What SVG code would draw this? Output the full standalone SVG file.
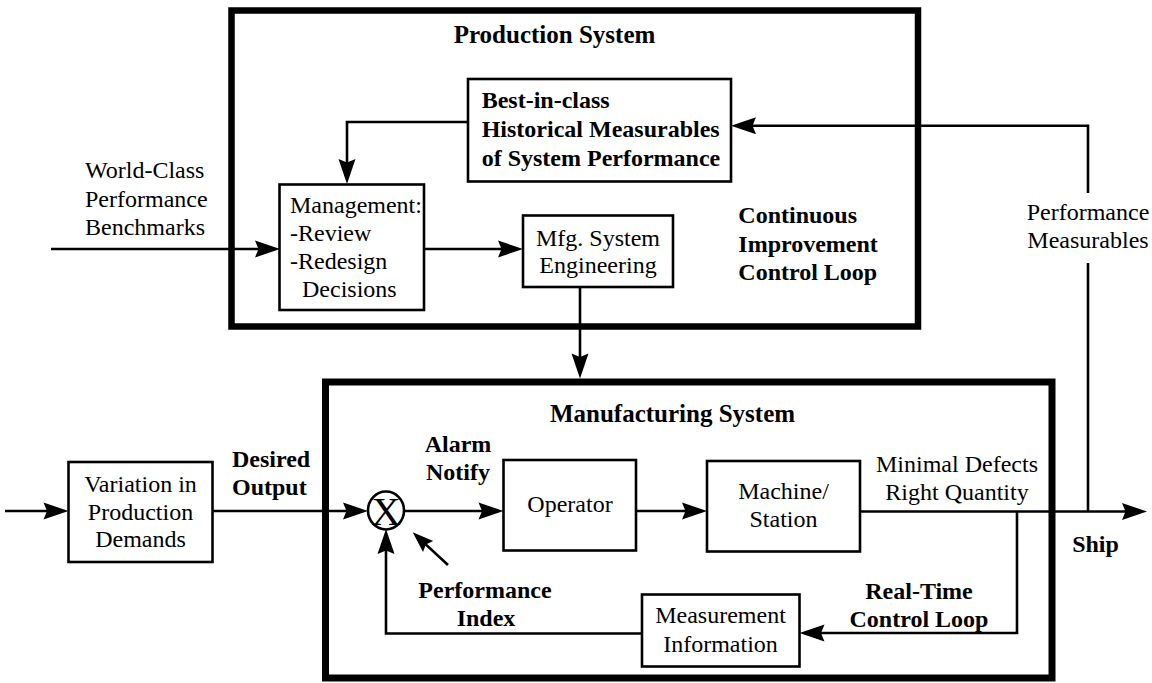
<svg xmlns="http://www.w3.org/2000/svg" width="1152" height="683" viewBox="0 0 1152 683">
  <style>
    .frame { fill: none; stroke: #000; stroke-width: 6.5; }
    .box { fill: #fff; stroke: #000; stroke-width: 2.6; }
    .wire { fill: none; stroke: #000; stroke-width: 2.6; }
    .arrow { marker-end: url(#head); }
    text { font-size: 24px; fill: #000; }
    .b { font-weight: bold; }
    .title { font-weight: bold; font-size: 25px; }
    .c { text-anchor: middle; }
  </style>
  <defs>
    <marker id="head" markerUnits="userSpaceOnUse" viewBox="-26 -10 27 20" refX="-8" refY="0" markerWidth="27" markerHeight="20" orient="auto">
      <path d="M0,0 L-25,-8.5 L-21.5,0 L-25,8.5 Z" fill="#000"/>
    </marker>
    <marker id="headSmall" markerUnits="userSpaceOnUse" viewBox="-22 -9 23 18" refX="-6" refY="0" markerWidth="23" markerHeight="18" orient="auto">
      <path d="M0,0 L-21,-7.5 L-18,0 L-21,7.5 Z" fill="#000"/>
    </marker>
  </defs>

  <g font-family="'Liberation Serif', Tinos, 'Times New Roman', 'DejaVu Serif', serif">
  <!-- outer system frames -->
  <g id="production-system">
    <rect class="frame" x="231.5" y="10.5" width="686.5" height="316"/>
    <text class="title c" x="554.5" y="43">Production System</text>
  </g>
  <g id="manufacturing-system">
    <rect class="frame" x="325.5" y="382" width="726.5" height="296" style="stroke-width:7"/>
    <text class="title c" x="672.5" y="421.7">Manufacturing System</text>
  </g>

  <!-- connectors -->
  <g id="connectors">
    <path class="wire arrow" d="M51,249 H272"/>
    <path class="wire arrow" d="M424,249 H515"/>
    <path class="wire arrow" d="M468,122 H347 V176"/>
    <path class="wire arrow" d="M580,287 V370.5"/>
    <path class="wire" d="M1088,263 V511.5"/>
    <path class="wire arrow" d="M1088,193 V125.7 H739"/>
    <path class="wire arrow" d="M5,511 H60.5"/>
    <path class="wire arrow" d="M212.5,511 H360"/>
    <path class="wire arrow" d="M404,511 H495.5"/>
    <path class="wire arrow" d="M636,511 H699"/>
    <path class="wire arrow" d="M860,511.5 H1139"/>
    <path class="wire arrow" d="M1017,511.5 V633 H807.5"/>
    <path class="wire arrow" d="M642,633.5 H386 V537"/>
    <path class="wire" d="M448,565 L417.1,536.4" style="marker-end:url(#headSmall)"/>
  </g>

  <!-- inner blocks -->
  <g id="best-in-class">
    <rect class="box" x="468" y="79" width="263" height="102.5"/>
    <text class="b" x="481.7" y="108.3">Best-in-class</text>
    <text class="b" x="481.7" y="136.7">Historical Measurables</text>
    <text class="b" x="481.7" y="165.7">of System Performance</text>
  </g>
  <g id="management">
    <rect class="box" x="279.5" y="184.5" width="144.5" height="125.5"/>
    <text x="290" y="213">Management:</text>
    <text x="290" y="241">-Review</text>
    <text x="290" y="269">-Redesign</text>
    <text x="302" y="297">Decisions</text>
  </g>
  <g id="mfg-engineering">
    <rect class="box" x="523" y="215.5" width="150" height="71.5"/>
    <text class="c" x="598" y="245.7">Mfg. System</text>
    <text class="c" x="598" y="273.3">Engineering</text>
  </g>
  <g id="benchmarks">
    <text x="85" y="178">World-Class</text>
    <text x="85" y="207">Performance</text>
    <text x="85" y="235">Benchmarks</text>
  </g>
  <g id="continuous-loop">
    <text class="b" x="738.3" y="222.7">Continuous</text>
    <text class="b" x="738.3" y="251.7">Improvement</text>
    <text class="b" x="738.3" y="280">Control Loop</text>
  </g>
  <g id="performance-measurables">
    <text class="c" x="1088" y="220">Performance</text>
    <text class="c" x="1088" y="248">Measurables</text>
  </g>

  <g id="variation">
    <rect class="box" x="68.5" y="462" width="144" height="100"/>
    <text class="c" x="140.5" y="491.7">Variation in</text>
    <text class="c" x="140.5" y="520">Production</text>
    <text class="c" x="140.5" y="547.3">Demands</text>
  </g>
  <g id="desired-output">
    <text class="b" x="232" y="466.7">Desired</text>
    <text class="b" x="232" y="495">Output</text>
  </g>
  <g id="comparator">
    <ellipse cx="386" cy="510.5" rx="18" ry="19" fill="#fff" stroke="#000" stroke-width="2.6"/>
    <text class="c" x="386" y="525" style="font-size:41px">X</text>
  </g>
  <g id="alarm-notify">
    <text class="b c" x="458" y="451.7">Alarm</text>
    <text class="b c" x="458" y="480">Notify</text>
  </g>
  <g id="operator">
    <rect class="box" x="503.5" y="460" width="132.5" height="90.5"/>
    <text class="c" x="570" y="511.7">Operator</text>
  </g>
  <g id="machine">
    <rect class="box" x="707" y="461" width="153" height="90.5"/>
    <text class="c" x="783.5" y="499">Machine/</text>
    <text class="c" x="783.5" y="527.3">Station</text>
  </g>
  <g id="output-quality">
    <text class="c" x="957" y="471.7">Minimal Defects</text>
    <text class="c" x="957" y="500">Right Quantity</text>
  </g>
  <g id="ship">
    <text class="b c" x="1095.5" y="551.7">Ship</text>
  </g>
  <g id="performance-index">
    <text class="b c" x="485" y="598.3">Performance</text>
    <text class="b c" x="486" y="626">Index</text>
  </g>
  <g id="measurement">
    <rect class="box" x="642" y="594.5" width="157.5" height="72"/>
    <text class="c" x="720.5" y="623.3">Measurement</text>
    <text class="c" x="720.5" y="651.7">Information</text>
  </g>
  <g id="real-time-loop">
    <text class="b c" x="919" y="599.3">Real-Time</text>
    <text class="b c" x="919" y="626.7">Control Loop</text>
  </g>
  </g>
</svg>
